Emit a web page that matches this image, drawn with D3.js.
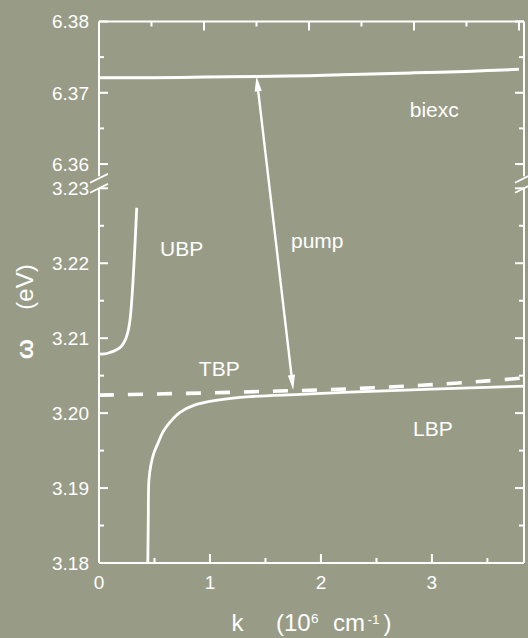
<!DOCTYPE html>
<html>
<head>
<meta charset="utf-8">
<script src="https://cdn.jsdelivr.net/npm/d3@7"></script>
<style>
  html, body { margin: 0; padding: 0; background: #989c87; }
  svg { display: block; }
  text { font-family: "Liberation Sans", Arial, Helvetica, sans-serif; fill: #ffffff; }
</style>
</head>
<body>
<svg id="chart" width="528" height="638"></svg>
<script>
// ---- data ----
// Biexciton branch (upper panel)
const biexcK = [0, 0.5, 1, 1.5, 2, 2.5, 3, 3.5, 4.0];
const biexcW = [6.3721, 6.3721, 6.3722, 6.3723, 6.3724, 6.3726, 6.3728, 6.3730, 6.3733];
// Upper bipolariton branch
const ubpK = [0, 0.05, 0.10, 0.15, 0.20, 0.235, 0.26, 0.28, 0.295, 0.31, 0.325, 0.34];
const ubpW = [3.2079, 3.2079, 3.2081, 3.2084, 3.2089, 3.2097, 3.2108, 3.2125, 3.2150, 3.2185, 3.2227, 3.2274];
// Lower bipolariton branch
const lbpK = [0.440, 0.444, 0.450, 0.468, 0.495, 0.532, 0.577, 0.640, 0.730, 0.865, 1.054, 1.36, 1.81, 2.26, 3.0, 3.83];
const lbpW = [3.1800, 3.1857, 3.1911, 3.1931, 3.1947, 3.1960, 3.1975, 3.1988, 3.2001, 3.2011, 3.2017, 3.2022, 3.2025, 3.2028, 3.2032, 3.2036];
// Two-photon bipolariton (dashed)
const tbpK = [0, 0.5, 1, 1.5, 2, 2.5, 3, 3.5, 3.83];
const tbpW = [3.2024, 3.20255, 3.2027, 3.2029, 3.2031, 3.2034, 3.2038, 3.2043, 3.2047];
// Pump transition: lower end (k, ω) on TBP, upper end (k, ω) on biexc
const pumpLow = [1.75, 3.2031];
const pumpHigh = [1.50, 6.3723];

// Axis ticks
const xMajorTicks = [0, 1, 2, 3];
const xMinorTicks = [0.5, 1.5, 2.5, 3.5];
const xTopMajor = [1, 2, 3, 4];
const xTopMinor = [0.5, 1.5, 2.5, 3.5];
const yUpperMajor = [6.36, 6.37, 6.38];
const yUpperMinor = [6.365, 6.375];
const yLowerMajor = [3.18, 3.19, 3.20, 3.21, 3.22, 3.23];
const yLowerMinor = [3.185, 3.195, 3.205, 3.215, 3.225];

// Curve labels
const curveLabels = [
  { text: "biexc", k: 2.96, w: 6.3666, panel: "upper" },
  { text: "UBP",   k: 0.55, w: 3.2210, panel: "lower" },
  { text: "pump",  k: 1.73, w: 3.2220, panel: "lower" },
  { text: "TBP",   k: 0.90, w: 3.2049, panel: "lower" },
  { text: "LBP",   k: 2.83, w: 3.1970, panel: "lower" }
];

// ---- layout ----
const plotLeft = 99, plotRight = 524;
const plotTop = 21.5, upperBottom = 178.3;
const lowerTop = 188.3, plotBottom = 563;

const xLower = d3.scaleLinear().domain([0, 3.83]).range([plotLeft, plotRight]);
const xUpper = d3.scaleLinear().domain([0, 4.048]).range([plotLeft, plotRight]);
const yUpper = d3.scaleLinear().domain([6.358, 6.38]).range([upperBottom, plotTop]);
const yLower = d3.scaleLinear().domain([3.18, 3.23]).range([plotBottom, lowerTop]);

const svg = d3.select("#chart");
svg.append("rect").attr("width", 528).attr("height", 638).attr("fill", "#989c87");

const white = "#ffffff";
const axisW = 2;
const majorLen = 9, minorLen = 5;
const tickFont = 19;

// ---- frame ----
const frame = svg.append("g").attr("stroke", white).attr("stroke-width", axisW).attr("fill", "none");
frame.append("line").attr("x1", plotLeft).attr("x2", plotRight).attr("y1", plotTop).attr("y2", plotTop);
frame.append("line").attr("x1", plotLeft).attr("x2", plotRight).attr("y1", plotBottom).attr("y2", plotBottom);
[plotLeft, plotRight].forEach(x => {
  frame.append("line").attr("x1", x).attr("x2", x).attr("y1", plotTop).attr("y2", upperBottom - 2);
  frame.append("line").attr("x1", x).attr("x2", x).attr("y1", lowerTop + 0.5).attr("y2", plotBottom);
  // axis break slashes
  [upperBottom, lowerTop].forEach(y => {
    frame.append("line")
      .attr("x1", x - 9).attr("y1", y + 4.4)
      .attr("x2", x + 9).attr("y2", y - 4.4)
      .attr("stroke-width", 1.8);
  });
});

// ---- ticks ----
const tickG = svg.append("g").attr("stroke", white).attr("stroke-width", axisW);
function hTick(y, len) {
  tickG.append("line").attr("x1", plotLeft).attr("x2", plotLeft + len).attr("y1", y).attr("y2", y);
  tickG.append("line").attr("x1", plotRight).attr("x2", plotRight - len).attr("y1", y).attr("y2", y);
}
yUpperMajor.forEach(v => hTick(yUpper(v), majorLen));
yUpperMinor.forEach(v => hTick(yUpper(v), minorLen));
yLowerMajor.forEach(v => hTick(yLower(v), majorLen));
yLowerMinor.forEach(v => hTick(yLower(v), minorLen));

xMajorTicks.forEach(v => tickG.append("line")
  .attr("x1", xLower(v)).attr("x2", xLower(v)).attr("y1", plotBottom).attr("y2", plotBottom - majorLen));
xMinorTicks.forEach(v => tickG.append("line")
  .attr("x1", xLower(v)).attr("x2", xLower(v)).attr("y1", plotBottom).attr("y2", plotBottom - minorLen));
xTopMajor.forEach(v => tickG.append("line")
  .attr("x1", xUpper(v)).attr("x2", xUpper(v)).attr("y1", plotTop).attr("y2", plotTop + majorLen));
xTopMinor.forEach(v => tickG.append("line")
  .attr("x1", xUpper(v)).attr("x2", xUpper(v)).attr("y1", plotTop).attr("y2", plotTop + minorLen));

// ---- tick labels ----
const fmt = d3.format(".2f");
function yLabel(y, v) {
  svg.append("text").attr("x", plotLeft - 10).attr("y", y).attr("dy", "0.36em")
    .attr("text-anchor", "end").attr("font-size", tickFont).text(fmt(v));
}
yUpperMajor.forEach(v => yLabel(yUpper(v), v));
yLowerMajor.forEach(v => yLabel(yLower(v), v));
xMajorTicks.forEach(v => svg.append("text")
  .attr("x", xLower(v)).attr("y", 589).attr("text-anchor", "middle")
  .attr("font-size", tickFont).text(d3.format("d")(v)));

// ---- curves ----
const zip = (a, b) => a.map((d, i) => [d, b[i]]);
const lineUpper = d3.line().x(d => xUpper(d[0])).y(d => yUpper(d[1])).curve(d3.curveCatmullRom.alpha(0.5));
const lineLower = d3.line().x(d => xLower(d[0])).y(d => yLower(d[1])).curve(d3.curveCatmullRom.alpha(0.5));

const curves = svg.append("g").attr("fill", "none").attr("stroke", white);
curves.append("path").attr("d", lineUpper(zip(biexcK, biexcW))).attr("stroke-width", 3);
curves.append("path").attr("d", lineLower(zip(ubpK, ubpW))).attr("stroke-width", 2.8);
curves.append("path").attr("d", lineLower(zip(lbpK, lbpW))).attr("stroke-width", 2.8);
curves.append("path").attr("d", lineLower(zip(tbpK, tbpW)))
  .attr("stroke-width", 3.6).attr("stroke-dasharray", "15,14");

// ---- pump arrow ----
const p0 = [xLower(pumpLow[0]), yLower(pumpLow[1])];
const p1 = [xUpper(pumpHigh[0]), yUpper(pumpHigh[1])];
const ang = Math.atan2(p1[1] - p0[1], p1[0] - p0[0]);
const headLen = 15, headHalf = 3.6;
function head(tip, dir) {
  const bx = tip[0] - Math.cos(dir) * headLen, by = tip[1] - Math.sin(dir) * headLen;
  const nx = -Math.sin(dir) * headHalf, ny = Math.cos(dir) * headHalf;
  return `M${tip[0]},${tip[1]}L${bx + nx},${by + ny}L${bx - nx},${by - ny}Z`;
}
const shaftA = [p0[0] + Math.cos(ang) * (headLen - 2), p0[1] + Math.sin(ang) * (headLen - 2)];
const shaftB = [p1[0] - Math.cos(ang) * (headLen - 2), p1[1] - Math.sin(ang) * (headLen - 2)];
svg.append("line").attr("x1", shaftA[0]).attr("y1", shaftA[1]).attr("x2", shaftB[0]).attr("y2", shaftB[1])
  .attr("stroke", white).attr("stroke-width", 2.4);
svg.append("path").attr("d", head(p1, ang)).attr("fill", white);
svg.append("path").attr("d", head(p0, ang + Math.PI)).attr("fill", white);

// ---- curve labels ----
curveLabels.forEach(l => {
  const x = l.panel === "upper" ? xUpper(l.k) : xLower(l.k);
  const y = l.panel === "upper" ? yUpper(l.w) : yLower(l.w);
  svg.append("text").attr("x", x).attr("y", y).attr("font-size", 21).text(l.text);
});

// ---- axis titles ----
const xt = svg.append("g").attr("font-size", 24);
xt.append("text").attr("x", 231.5).attr("y", 631).text("k");
xt.append("text").attr("x", 276).attr("y", 631).text("(10");
xt.append("text").attr("x", 311).attr("y", 623).attr("font-size", 13.5).text("6");
xt.append("text").attr("x", 333).attr("y", 631).text("cm");
xt.append("text").attr("x", 367.5).attr("y", 624).attr("font-size", 13.5).text("-1");
xt.append("text").attr("x", 383.5).attr("y", 631).text(")");

svg.append("text").attr("transform", "translate(33,349) rotate(-90)")
  .attr("text-anchor", "middle").attr("font-size", 24).attr("font-weight", "bold").text("ω");
svg.append("text").attr("transform", "translate(33,287) rotate(-90)")
  .attr("text-anchor", "middle").attr("font-size", 24).text("(eV)");
</script>
</body>
</html>
